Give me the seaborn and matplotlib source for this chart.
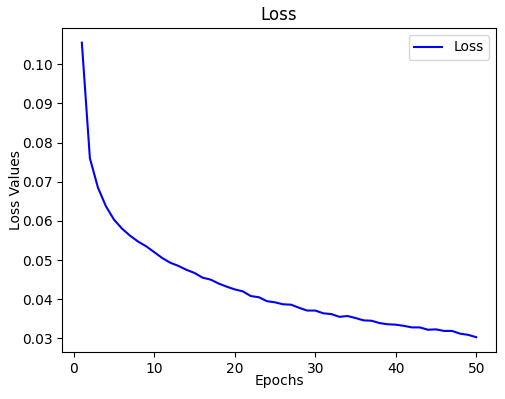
import pandas as pd
import matplotlib
matplotlib.use("Agg")
import matplotlib.pyplot as plt
import seaborn as sns

# Loss values per epoch
epochs = list(range(1, 51))
loss = [0.1055, 0.0760, 0.0685, 0.0637, 0.0603, 0.0580, 0.0562, 0.0547, 0.0535, 0.0520,
        0.0505, 0.0493, 0.0485, 0.0475, 0.0467, 0.0455, 0.0450, 0.0440, 0.0432, 0.0425,
        0.0420, 0.0408, 0.0405, 0.0395, 0.0392, 0.0387, 0.0386, 0.0378, 0.0371, 0.0371,
        0.0364, 0.0362, 0.0355, 0.0357, 0.0352, 0.0346, 0.0345, 0.0339, 0.0336, 0.0335,
        0.0332, 0.0328, 0.0328, 0.0322, 0.0323, 0.0319, 0.0319, 0.0312, 0.0309, 0.0303]

df = pd.DataFrame({"Epochs": epochs, "Loss": loss})

fig, ax = plt.subplots(figsize=(5.05, 3.99), dpi=100)
sns.lineplot(data=df, x="Epochs", y="Loss", color="blue", linewidth=1.5, label="Loss", ax=ax)

ax.set_title("Loss")
ax.set_xlabel("Epochs", labelpad=-1)
ax.set_ylabel("Loss Values", labelpad=-1)
ax.legend(loc="upper right")

fig.subplots_adjust(left=0.123, right=0.982, top=0.930, bottom=0.118)
fig.savefig("out.png", dpi=100)
